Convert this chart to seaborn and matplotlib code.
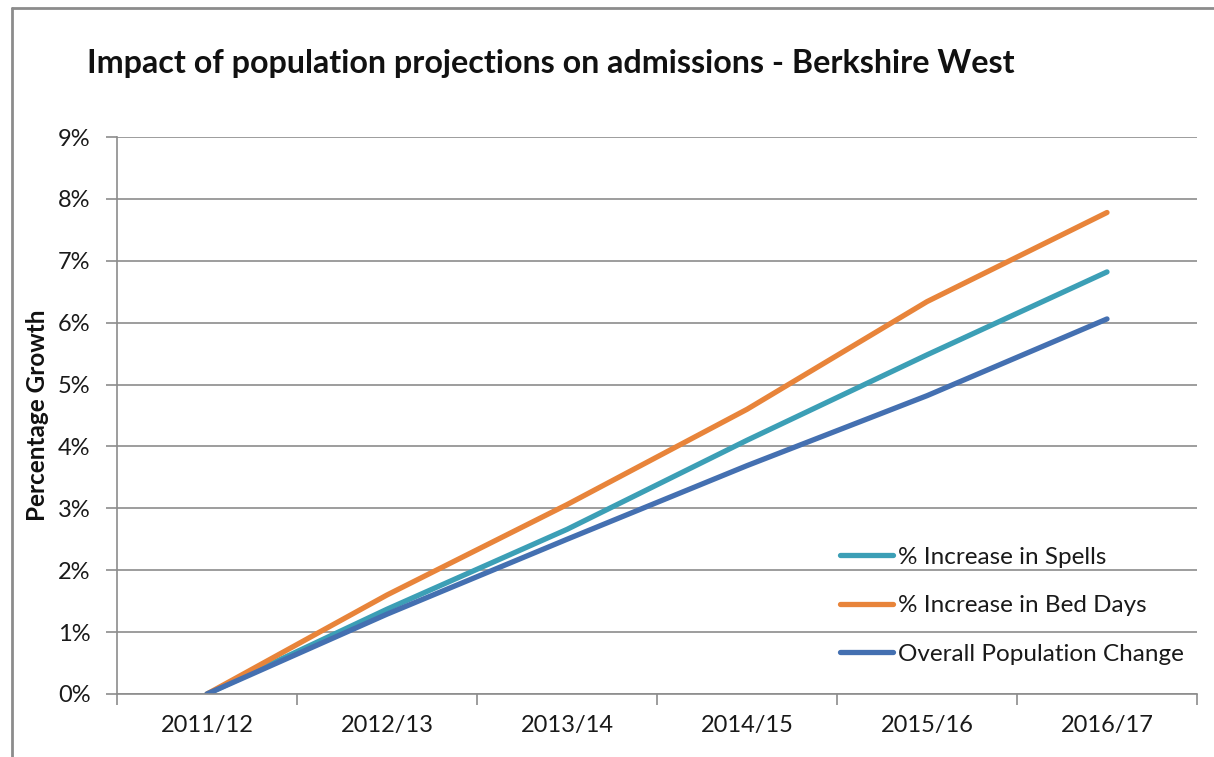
import matplotlib
matplotlib.use("Agg")
import matplotlib.pyplot as plt
import seaborn as sns
import pandas as pd
from matplotlib.lines import Line2D

years = ["2011/12", "2012/13", "2013/14", "2014/15", "2015/16", "2016/17"]
spells = [0.0, 1.37, 2.66, 4.10, 5.48, 6.82]
bed_days = [0.0, 1.60, 3.06, 4.60, 6.34, 7.78]
population = [0.0, 1.29, 2.50, 3.69, 4.82, 6.06]
series_names = ["% Increase in Spells", "% Increase in Bed Days", "Overall Population Change"]
colors = ["#3C9FB6", "#E8843A", "#4470B1"]
y_ticks = [0, 1, 2, 3, 4, 5, 6, 7, 8, 9]

rows = []
for name, vals in zip(series_names, [spells, bed_days, population]):
    for i, v in enumerate(vals):
        rows.append({"idx": i, "value": v, "series": name})
df = pd.DataFrame(rows)

sns.set_theme(style="white")
plt.rcParams["font.family"] = ["Lato", "DejaVu Sans"]

fig = plt.figure(figsize=(12.14, 7.57), dpi=100)
ax = fig.add_axes([117/1214, 1-694/757, (1197-117)/1214, (694-137)/757])

sns.lineplot(data=df, x="idx", y="value", hue="series", hue_order=series_names,
             palette=colors, linewidth=3.8, ax=ax, legend=True, solid_capstyle="round")

grid_c = "#8C8C8C"
ax.set_xlim(-0.5, 5.5)
ax.set_ylim(0, 9)
ax.set_yticks(y_ticks)
ax.set_yticklabels([f"{t}%" for t in y_ticks])
ax.set_xticks(range(len(years)))
ax.set_xticklabels(years)
ax.set_xticks([i - 0.5 for i in range(len(years) + 1)], minor=True)
ax.tick_params(axis="x", which="major", length=0, pad=15, labelsize=17, labelcolor="#1a1a1a")
ax.tick_params(axis="x", which="minor", length=8, width=1.2, color=grid_c, direction="out", bottom=True)
ax.tick_params(axis="y", length=8, width=1.2, color=grid_c, direction="out", left=True, pad=11,
               labelsize=17, labelcolor="#1a1a1a")
ax.yaxis.grid(True, color=grid_c, linewidth=1.2)
ax.xaxis.grid(False)
ax.set_axisbelow(True)
for s in ["top", "right"]:
    ax.spines[s].set_visible(False)
for s in ["left", "bottom"]:
    ax.spines[s].set_color(grid_c)
    ax.spines[s].set_linewidth(1.2)
ax.set_xlabel("")
ax.set_ylabel("Percentage Growth", fontsize=17.5, fontweight="bold", color="#111111")
ax.yaxis.set_label_coords(-68/1080, 0.5)

leg = ax.legend(loc="upper left", bbox_to_anchor=(830/1214, 1-537/757), bbox_transform=fig.transFigure,
                frameon=False, fontsize=17.5, handlelength=2.2, handletextpad=0.2, labelspacing=1.13,
                borderaxespad=0)
for t in leg.get_texts():
    t.set_color("#1a1a1a")

fig.text(87/1214, 1-63/757, "Impact of population projections on admissions - Berkshire West",
         fontsize=23.2, fontweight="bold", color="#111111", va="center", ha="left")

# chart-area border
border_c = "#8C8C8C"
fig.add_artist(Line2D([12/1214, 12/1214], [0, 1-8/757], transform=fig.transFigure, color=border_c, linewidth=2))
fig.add_artist(Line2D([12/1214, 1], [1-8/757, 1-8/757], transform=fig.transFigure, color=border_c, linewidth=2))

fig.savefig("out.png", dpi=100)
